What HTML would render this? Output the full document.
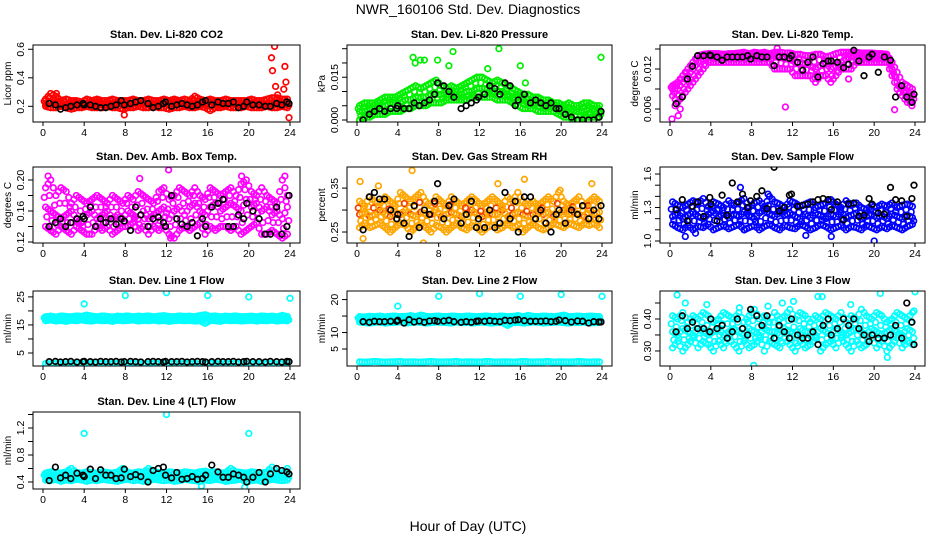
<!DOCTYPE html>
<html><head><meta charset="utf-8"><title>NWR_160106 Std. Dev. Diagnostics</title>
<style>
html,body{margin:0;padding:0;background:#fff;}
svg{display:block;font-family:"Liberation Sans",sans-serif;}
</style></head>
<body>
<svg id="chart" width="936" height="540" viewBox="0 0 936 540" xmlns="http://www.w3.org/2000/svg">
<text x="468" y="14" font-size="14" text-anchor="middle">NWR_160106  Std. Dev. Diagnostics</text>
<text x="468" y="531" font-size="14" text-anchor="middle">Hour of Day (UTC)</text>
</svg>
<script>
// ---------- common data ----------
const hours = [0.25,0.75,1.25,1.75,2.25,2.75,3.25,3.75,4.25,4.75,5.25,5.75,6.25,6.75,7.25,7.75,8.25,8.75,9.25,9.75,10.25,10.75,11.25,11.75,12.25,12.75,13.25,13.75,14.25,14.75,15.25,15.75,16.25,16.75,17.25,17.75,18.25,18.75,19.25,19.75,20.25,20.75,21.25,21.75,22.25,22.75,23.25,23.75];
const blackHours = [0.6,1.2,1.7,2.2,2.7,3.3,3.9,4.0,4.6,5.1,5.6,6.1,6.6,7.1,7.6,7.9,8.5,9.0,9.5,10.2,10.7,11.2,11.7,11.9,12.5,13.0,13.5,14.0,14.5,15.0,15.5,15.8,16.4,17.0,17.5,18.0,18.5,19.0,19.5,19.8,20.4,21.0,21.6,22.1,22.7,23.2,23.7,23.9];
const xTicks = [0,4,8,12,16,20,24];

// ---------- CO2 ----------
const co2Lo = [0.20,0.19,0.19,0.20,0.19,0.18,0.19,0.19,0.20,0.19,0.19,0.19,0.20,0.19,0.19,0.18,0.19,0.19,0.20,0.19,0.19,0.20,0.19,0.19,0.18,0.19,0.19,0.20,0.19,0.19,0.20,0.19,0.17,0.19,0.19,0.20,0.19,0.19,0.19,0.20,0.19,0.19,0.19,0.20,0.19,0.19,0.20,0.19];
const co2Mid = [0.22,0.23,0.22,0.22,0.21,0.22,0.22,0.21,0.22,0.22,0.23,0.22,0.21,0.22,0.22,0.22,0.21,0.22,0.23,0.22,0.22,0.21,0.22,0.22,0.22,0.23,0.22,0.22,0.21,0.22,0.22,0.22,0.23,0.22,0.21,0.22,0.22,0.22,0.21,0.22,0.22,0.22,0.21,0.22,0.22,0.23,0.22,0.22];
const co2Hi = [0.25,0.29,0.27,0.24,0.25,0.24,0.24,0.23,0.25,0.24,0.25,0.24,0.24,0.25,0.24,0.24,0.24,0.25,0.24,0.24,0.25,0.24,0.24,0.25,0.24,0.25,0.24,0.25,0.24,0.27,0.25,0.24,0.25,0.24,0.24,0.25,0.24,0.24,0.24,0.24,0.25,0.24,0.24,0.25,0.26,0.26,0.25,0.25];
const co2OutX = [1.3,7.9,22.2,22.3,22.5,22.6,22.8,23.4,23.5,23.6,23.9];
const co2OutY = [0.29,0.14,0.54,0.45,0.62,0.34,0.28,0.32,0.48,0.37,0.12];
const co2Black = [0.22,0.21,0.18,0.19,0.20,0.21,0.22,0.21,0.21,0.20,0.19,0.19,0.20,0.21,0.24,0.21,0.22,0.23,0.24,0.22,0.19,0.20,0.22,0.23,0.20,0.21,0.22,0.21,0.20,0.21,0.23,0.24,0.21,0.23,0.22,0.22,0.23,0.19,0.20,0.23,0.21,0.21,0.20,0.20,0.22,0.21,0.23,0.22];

// ---------- Pressure ----------
const prLo = [0,0.001,0.001,0.002,0.002,0.002,0.003,0.003,0.003,0.004,0.004,0.005,0.005,0.005,0.006,0.006,0.006,0.007,0.007,0.007,0.007,0.007,0.008,0.008,0.008,0.008,0.008,0.007,0.007,0.007,0.006,0.005,0.004,0.004,0.004,0.003,0.003,0.003,0.003,0.002,0.001,0.001,0.0,0.0,0.001,0.001,0.001,0.001];
const prMid = [0.003,0.003,0.004,0.004,0.005,0.005,0.006,0.006,0.006,0.007,0.007,0.008,0.008,0.008,0.009,0.009,0.009,0.009,0.009,0.009,0.009,0.010,0.010,0.011,0.011,0.011,0.010,0.010,0.010,0.009,0.008,0.008,0.007,0.006,0.006,0.006,0.005,0.005,0.005,0.004,0.004,0.003,0.003,0.003,0.003,0.004,0.003,0.003];
const prHi = [0.005,0.006,0.006,0.006,0.007,0.008,0.008,0.008,0.009,0.010,0.011,0.012,0.011,0.012,0.013,0.014,0.012,0.011,0.012,0.011,0.012,0.013,0.014,0.015,0.015,0.014,0.013,0.014,0.013,0.012,0.011,0.010,0.009,0.009,0.008,0.008,0.007,0.007,0.006,0.006,0.005,0.006,0.005,0.005,0.006,0.006,0.005,0.005];
const prOutX = [5.5,5.7,6.2,6.6,7.9,9.0,9.4,12.8,13.9,16.0,16.5,23.9];
const prOutY = [0.022,0.020,0.021,0.021,0.021,0.019,0.024,0.018,0.025,0.019,0.013,0.022];
const prBlack = [0.0,0.002,0.003,0.004,0.003,0.004,0.004,0.005,0.004,0.004,0.006,0.005,0.006,0.007,0.009,0.013,0.012,0.010,0.008,0.004,0.005,0.006,0.007,0.008,0.009,0.012,0.011,0.009,0.013,0.012,0.005,0.007,0.009,0.006,0.007,0.006,0.005,0.006,0.004,0.004,0.002,0.001,0.0,0.0,0.0,0.0,0.001,0.003];

// ---------- Li-820 Temp ----------
const ltLo = [0.008,0.007,0.008,0.009,0.010,0.011,0.012,0.013,0.013,0.013,0.013,0.013,0.013,0.013,0.013,0.013,0.013,0.013,0.013,0.013,0.012,0.012,0.012,0.012,0.011,0.011,0.011,0.011,0.010,0.011,0.011,0.010,0.011,0.012,0.012,0.012,0.013,0.013,0.013,0.013,0.013,0.013,0.013,0.011,0.009,0.008,0.007,0.007];
const ltMid = [0.009,0.009,0.010,0.011,0.012,0.013,0.0135,0.0138,0.014,0.014,0.014,0.014,0.014,0.014,0.014,0.014,0.014,0.014,0.014,0.014,0.014,0.0138,0.0135,0.0135,0.013,0.013,0.0128,0.0125,0.012,0.0125,0.013,0.012,0.0125,0.013,0.0135,0.014,0.014,0.014,0.014,0.014,0.014,0.014,0.0138,0.012,0.010,0.009,0.008,0.008];
const ltHi = [0.0095,0.010,0.011,0.012,0.013,0.014,0.0142,0.0143,0.0143,0.0143,0.0142,0.0143,0.0143,0.0144,0.0145,0.0143,0.0145,0.0144,0.0145,0.0143,0.0145,0.0145,0.0144,0.0144,0.0142,0.0142,0.014,0.014,0.0142,0.0142,0.0138,0.014,0.0143,0.0145,0.0145,0.0145,0.0145,0.0144,0.0144,0.0144,0.0143,0.0143,0.0142,0.013,0.0115,0.010,0.0095,0.009];
const ltOutX = [0.2,0.8,1.0,11.3,14.2,17.5,22.0,23.7,10.5,0.5];
const ltOutY = [0.0045,0.005,0.006,0.0063,0.0107,0.0105,0.0059,0.0065,0.0151,0.0065];
const ltBlack = [0.0068,0.0078,0.0105,0.0124,0.0140,0.0140,0.0141,0.0140,0.0138,0.0133,0.0138,0.0138,0.0138,0.0138,0.0140,0.0135,0.0140,0.0138,0.0138,0.0125,0.0138,0.0138,0.0136,0.0140,0.0130,0.0118,0.0130,0.0138,0.0108,0.0128,0.0132,0.0132,0.0130,0.0122,0.0127,0.0148,0.0132,0.0110,0.0138,0.0142,0.0115,0.0138,0.0133,0.0078,0.0095,0.0078,0.0070,0.0082];

// ---------- Amb Box Temp ----------
const abLo = [0.14,0.135,0.13,0.14,0.135,0.13,0.14,0.135,0.13,0.13,0.14,0.135,0.14,0.13,0.135,0.14,0.14,0.145,0.135,0.14,0.13,0.14,0.135,0.14,0.13,0.125,0.135,0.14,0.135,0.14,0.145,0.13,0.14,0.135,0.14,0.14,0.135,0.14,0.13,0.135,0.14,0.145,0.13,0.13,0.135,0.13,0.125,0.13];
const abMid = [0.165,0.16,0.155,0.15,0.155,0.16,0.15,0.145,0.155,0.16,0.15,0.155,0.16,0.15,0.155,0.15,0.16,0.155,0.15,0.16,0.15,0.155,0.16,0.165,0.15,0.16,0.165,0.155,0.165,0.17,0.16,0.155,0.165,0.17,0.16,0.165,0.17,0.165,0.16,0.175,0.165,0.17,0.16,0.165,0.155,0.16,0.15,0.165];
const abHi = [0.19,0.2,0.18,0.19,0.185,0.17,0.18,0.175,0.17,0.175,0.18,0.175,0.17,0.18,0.175,0.17,0.18,0.175,0.185,0.18,0.175,0.17,0.185,0.19,0.175,0.18,0.19,0.185,0.18,0.19,0.18,0.175,0.19,0.185,0.18,0.185,0.19,0.18,0.195,0.2,0.185,0.18,0.19,0.18,0.175,0.17,0.2,0.18];
const abOutX = [0.5,12.2,12.4,23.5,9.4,19.3];
const abOutY = [0.205,0.213,0.125,0.205,0.202,0.205];
const abBlack = [0.14,0.145,0.15,0.14,0.145,0.15,0.153,0.15,0.165,0.14,0.15,0.145,0.15,0.143,0.15,0.147,0.135,0.165,0.155,0.14,0.15,0.152,0.145,0.14,0.18,0.15,0.143,0.14,0.145,0.128,0.15,0.14,0.165,0.17,0.175,0.14,0.14,0.155,0.15,0.17,0.16,0.15,0.13,0.13,0.165,0.13,0.14,0.18];

// ---------- Gas Stream RH ----------
const rhLo = [0.26,0.27,0.26,0.265,0.27,0.26,0.25,0.26,0.27,0.265,0.25,0.26,0.27,0.26,0.25,0.265,0.26,0.25,0.26,0.27,0.26,0.255,0.265,0.26,0.25,0.26,0.265,0.255,0.26,0.27,0.26,0.265,0.25,0.26,0.27,0.26,0.255,0.26,0.27,0.265,0.26,0.27,0.265,0.26,0.27,0.265,0.27,0.26];
const rhMid = [0.29,0.295,0.285,0.29,0.3,0.29,0.285,0.295,0.29,0.3,0.29,0.285,0.295,0.29,0.29,0.3,0.285,0.29,0.295,0.29,0.285,0.29,0.3,0.29,0.285,0.295,0.29,0.29,0.3,0.285,0.29,0.295,0.29,0.285,0.29,0.3,0.29,0.295,0.285,0.29,0.3,0.29,0.295,0.29,0.285,0.3,0.29,0.295];
const rhHi = [0.32,0.31,0.33,0.32,0.315,0.33,0.32,0.31,0.34,0.33,0.32,0.33,0.34,0.32,0.31,0.33,0.32,0.31,0.33,0.32,0.31,0.32,0.33,0.32,0.31,0.32,0.33,0.32,0.31,0.33,0.32,0.34,0.32,0.31,0.32,0.31,0.32,0.33,0.32,0.34,0.32,0.31,0.32,0.33,0.31,0.32,0.33,0.32];
const rhOutX = [0.3,0.6,5.4,6.5,16.4,23.0,2.1,13.8,19.9];
const rhOutY = [0.365,0.235,0.39,0.225,0.37,0.36,0.355,0.36,0.345];
const rhBlack = [0.255,0.33,0.34,0.325,0.325,0.3,0.28,0.29,0.27,0.24,0.31,0.26,0.30,0.29,0.32,0.36,0.28,0.31,0.325,0.27,0.29,0.32,0.26,0.28,0.26,0.3,0.26,0.27,0.34,0.28,0.32,0.25,0.33,0.33,0.28,0.3,0.27,0.25,0.29,0.30,0.27,0.3,0.29,0.31,0.28,0.3,0.28,0.31];

// ---------- Sample Flow ----------
const sfLo = [1.15,1.12,1.1,1.14,1.1,1.13,1.12,1.15,1.1,1.12,1.14,1.11,1.13,1.15,1.1,1.12,1.14,1.1,1.13,1.15,1.12,1.1,1.14,1.12,1.11,1.15,1.13,1.1,1.12,1.15,1.13,1.1,1.12,1.14,1.1,1.13,1.12,1.1,1.14,1.12,1.1,1.13,1.11,1.14,1.12,1.1,1.13,1.15];
const sfMid = [1.22,1.25,1.2,1.23,1.26,1.22,1.2,1.24,1.27,1.22,1.25,1.21,1.24,1.22,1.26,1.23,1.2,1.25,1.28,1.24,1.22,1.26,1.23,1.25,1.22,1.2,1.24,1.21,1.25,1.23,1.2,1.24,1.22,1.26,1.21,1.23,1.25,1.2,1.22,1.24,1.21,1.23,1.2,1.24,1.22,1.2,1.23,1.21];
const sfHi = [1.35,1.32,1.3,1.33,1.36,1.34,1.38,1.31,1.35,1.33,1.3,1.36,1.32,1.35,1.38,1.3,1.34,1.36,1.31,1.4,1.35,1.33,1.3,1.36,1.34,1.31,1.33,1.35,1.3,1.32,1.34,1.37,1.33,1.3,1.36,1.32,1.34,1.3,1.28,1.32,1.3,1.33,1.31,1.34,1.3,1.32,1.33,1.31];
const sfOutX = [1.5,6.9,7.3,9.6,15.8,20.0,2.5,13.3];
const sfOutY = [1.04,1.48,1.1,1.42,1.04,1.0,1.07,1.05];
const sfBlack = [1.28,1.37,1.18,1.31,1.35,1.22,1.39,1.33,1.18,1.41,1.23,1.52,1.35,1.42,1.3,1.36,1.4,1.45,1.29,1.66,1.27,1.3,1.41,1.42,1.31,1.32,1.33,1.35,1.37,1.38,1.37,1.28,1.35,1.19,1.33,1.34,1.22,1.23,1.38,1.33,1.25,1.24,1.48,1.37,1.36,1.22,1.38,1.5];

// ---------- Line 1 Flow ----------
const l1Lo = [16.5,16.8,16.4,16.6,16.3,16.7,16.5,16.8,16.5,16.4,16.7,16.5,16.6,16.3,16.7,16.5,16.6,16.8,16.4,16.6,16.5,16.7,16.4,16.6,16.3,16.5,16.7,16.5,16.6,16.4,16.5,15.6,16.6,16.5,16.3,16.7,16.5,16.6,16.4,16.5,16.7,16.4,16.6,16.5,16.7,16.4,16.6,16.5];
const l1Mid = [17.2,17.0,17.3,17.1,17.2,17.0,17.3,17.2,17.1,17.4,17.2,17.0,17.1,17.3,17.2,17.0,17.1,17.3,17.2,17.1,17.0,17.2,17.3,17.1,17.2,17.4,17.1,17.2,17.0,17.3,17.2,17.1,17.2,17.0,17.3,17.1,17.2,17.3,17.0,17.2,17.1,17.3,17.2,17.0,17.1,17.3,17.2,17.1];
const l1Hi = [17.9,18.1,17.8,18.2,18.0,17.9,18.2,18.0,18.5,18.1,17.9,18.2,18.0,17.8,18.1,18.0,18.2,17.9,18.1,18.0,18.2,17.9,18.1,18.3,18.0,17.9,18.2,18.0,18.1,17.9,18.3,18.6,18.0,18.2,17.9,18.1,18.0,18.2,17.9,18.0,18.1,17.9,18.2,18.0,18.1,17.9,18.4,18.0];
const l1Low2 = [1.2,1.1,1.3,1.2,1.1,1.2,1.3,1.2,1.1,1.2,1.2,1.3,1.1,1.2,1.2,1.1,1.3,1.2,1.2,1.1,1.2,1.3,1.2,1.1,1.2,1.2,1.1,1.3,1.2,1.2,1.1,1.2,1.3,1.2,1.1,1.2,1.2,1.3,1.1,1.2,1.2,1.1,1.3,1.2,1.2,1.1,1.2,1.2];
const l1OutX = [4.0,8.0,12.0,16.0,20.0,24.0];
const l1OutY = [22.5,25.5,26.5,25.5,25.0,24.5];
const l1Black = [1.9,2.0,1.8,1.9,2.0,1.8,1.9,2.0,1.9,1.8,2.0,1.9,1.9,2.0,1.8,1.9,2.0,1.9,1.8,1.9,2.0,1.9,1.8,2.0,1.9,1.9,2.0,1.8,1.9,2.0,1.9,1.8,1.9,2.0,1.9,1.9,2.0,1.8,1.9,2.0,1.9,1.9,1.8,2.0,1.9,1.8,2.0,1.9];

// ---------- Line 2 Flow ----------
const l2Lo = [13.2,13.0,12.9,13.1,13.2,12.9,13.0,13.1,13.3,12.9,13.0,13.2,13.1,12.9,13.0,13.2,13.1,13.0,12.9,13.2,13.0,13.1,12.9,13.0,13.2,13.0,12.9,13.1,13.0,12.2,13.0,13.1,12.9,13.0,13.2,13.1,12.9,13.0,13.1,13.2,13.0,12.9,13.1,13.0,13.2,12.9,13.0,13.1];
const l2Mid = [14.0,13.9,14.1,14.0,13.8,14.1,14.0,13.9,14.1,14.0,13.9,14.1,14.0,14.2,13.9,14.0,14.1,13.9,14.0,14.1,14.0,13.9,14.1,14.0,13.9,14.1,14.0,14.0,13.9,14.1,14.0,13.9,14.1,14.0,13.9,14.0,14.1,14.0,13.9,14.1,14.0,13.9,14.0,14.1,14.0,13.9,14.1,14.0];
const l2Hi = [14.8,14.7,14.9,14.8,15.0,14.7,14.9,15.0,14.8,14.9,15.1,14.8,15.3,14.9,14.8,15.0,14.9,14.8,15.0,14.9,14.8,15.0,14.9,14.8,14.9,15.0,14.8,14.9,15.0,14.8,14.9,15.1,14.8,15.2,14.9,14.8,15.0,14.9,14.8,15.0,15.3,14.8,14.9,15.0,14.8,15.0,14.9,14.8];
const l2Low2 = [1.1,1.0,1.1,1.2,1.1,1.0,1.1,1.1,1.2,1.0,1.1,1.1,1.0,1.1,1.2,1.1,1.0,1.1,1.1,1.2,1.0,1.1,1.1,1.0,1.1,1.2,1.1,1.0,1.1,1.1,1.0,1.1,1.2,1.1,1.0,1.1,1.1,1.2,1.0,1.1,1.1,1.0,1.1,1.2,1.1,1.0,1.1,1.1];
const l2OutX = [4.0,8.0,12.0,16.0,20.0,24.0];
const l2OutY = [18.0,21.0,21.8,21.0,21.5,21.0];
const l2Black = [13.3,13.1,13.4,13.3,13.3,13.4,13.4,13.7,12.9,13.9,13.2,13.5,13.1,13.5,13.6,13.4,13.5,13.7,13.3,13.1,13.3,13.1,13.4,13.5,13.4,13.6,13.4,13.3,13.7,13.6,13.8,13.9,13.6,13.4,13.4,13.4,13.5,13.3,13.4,13.8,13.6,13.2,13.5,13.4,12.9,13.3,13.2,13.2];

// ---------- Line 3 Flow ----------
const l3Lo = [0.31,0.33,0.30,0.32,0.34,0.31,0.33,0.32,0.30,0.33,0.31,0.34,0.32,0.30,0.33,0.31,0.32,0.34,0.30,0.33,0.32,0.31,0.34,0.32,0.30,0.33,0.31,0.32,0.34,0.30,0.32,0.33,0.31,0.34,0.32,0.30,0.33,0.31,0.32,0.34,0.31,0.33,0.30,0.32,0.34,0.31,0.33,0.32];
const l3Mid = [0.36,0.35,0.37,0.36,0.35,0.37,0.36,0.35,0.36,0.37,0.35,0.36,0.37,0.36,0.35,0.37,0.36,0.35,0.37,0.36,0.36,0.35,0.37,0.36,0.35,0.37,0.36,0.36,0.35,0.37,0.36,0.35,0.37,0.36,0.35,0.36,0.37,0.36,0.35,0.37,0.36,0.35,0.36,0.37,0.36,0.35,0.37,0.36];
const l3Hi = [0.41,0.40,0.42,0.39,0.41,0.40,0.42,0.41,0.39,0.40,0.42,0.41,0.40,0.42,0.39,0.41,0.43,0.40,0.41,0.39,0.42,0.40,0.41,0.43,0.40,0.42,0.41,0.39,0.41,0.40,0.42,0.41,0.40,0.42,0.39,0.41,0.40,0.43,0.41,0.40,0.42,0.41,0.39,0.40,0.42,0.41,0.40,0.42];
const l3OutX = [0.7,3.6,8.2,12.1,14.5,14.9,20.6,21.3,24.0,23.9,1.5,6.8,9.6,11.0,17.7];
const l3OutY = [0.475,0.445,0.255,0.455,0.47,0.47,0.48,0.28,0.485,0.425,0.45,0.435,0.44,0.45,0.445];
const l3Black = [0.36,0.41,0.37,0.39,0.37,0.37,0.36,0.40,0.37,0.38,0.34,0.36,0.40,0.37,0.35,0.43,0.41,0.38,0.41,0.34,0.38,0.36,0.34,0.40,0.35,0.34,0.34,0.36,0.32,0.38,0.40,0.35,0.37,0.40,0.38,0.40,0.37,0.35,0.33,0.35,0.34,0.34,0.35,0.38,0.34,0.45,0.39,0.32];

// ---------- Line 4 Flow ----------
const l4Lo = [0.43,0.42,0.44,0.41,0.43,0.42,0.44,0.43,0.41,0.43,0.42,0.44,0.43,0.42,0.41,0.43,0.44,0.42,0.43,0.41,0.42,0.44,0.43,0.42,0.43,0.41,0.42,0.44,0.43,0.42,0.41,0.43,0.42,0.44,0.43,0.41,0.42,0.43,0.44,0.40,0.42,0.43,0.41,0.42,0.44,0.43,0.42,0.43];
const l4Mid = [0.48,0.49,0.47,0.48,0.50,0.48,0.47,0.49,0.48,0.50,0.47,0.48,0.49,0.48,0.47,0.49,0.48,0.50,0.47,0.48,0.49,0.47,0.48,0.50,0.48,0.47,0.49,0.48,0.47,0.49,0.48,0.50,0.47,0.48,0.49,0.48,0.47,0.49,0.48,0.50,0.47,0.48,0.49,0.48,0.47,0.49,0.48,0.50];
const l4Hi = [0.53,0.55,0.54,0.53,0.55,0.60,0.54,0.53,0.55,0.54,0.53,0.55,0.54,0.53,0.55,0.60,0.54,0.53,0.55,0.54,0.60,0.55,0.54,0.53,0.55,0.54,0.53,0.55,0.54,0.53,0.55,0.56,0.54,0.55,0.53,0.54,0.60,0.55,0.54,0.53,0.55,0.54,0.53,0.55,0.62,0.54,0.53,0.60];
const l4OutX = [4.0,12.0,20.0,19.6,15.4];
const l4OutY = [1.12,1.40,1.12,0.32,0.34];
const l4Black = [0.42,0.62,0.46,0.50,0.45,0.53,0.50,0.48,0.59,0.45,0.58,0.50,0.50,0.45,0.46,0.59,0.48,0.51,0.48,0.40,0.57,0.60,0.62,0.50,0.46,0.54,0.44,0.45,0.48,0.44,0.45,0.50,0.65,0.55,0.47,0.47,0.52,0.50,0.47,0.40,0.47,0.54,0.40,0.52,0.60,0.57,0.55,0.52];

// ---------- panel layout (geometry, not data) ----------
const panels = [
 {id:'co2',title:'Stan. Dev. Li-820 CO2',ylab:'Licor ppm',box:[33,45,300,122],ymin:0.09,ymax:0.63,color:'#ff0000',ticks:[0.2,0.4,0.6],labels:['0.2','0.4','0.6'],
  lo:co2Lo,mid:co2Mid,hi:co2Hi,oX:co2OutX,oY:co2OutY,black:co2Black},
 {id:'pressure',title:'Stan. Dev. Li-820 Pressure',ylab:'kPa',box:[347,45,612,122],ymin:-0.0007,ymax:0.0263,color:'#00ee00',ticks:[0,0.005,0.010,0.015,0.020,0.025],labels:['0.000','','','0.015','',''],
  lo:prLo,mid:prMid,hi:prHi,oX:prOutX,oY:prOutY,black:prBlack},
 {id:'li-temp',title:'Stan. Dev. Li-820 Temp.',ylab:'degrees C',box:[660,45,925,122],ymin:0.00405,ymax:0.0156,color:'#ff00ff',ticks:[0.006,0.009,0.012,0.015],labels:['0.006','','0.012',''],
  lo:ltLo,mid:ltMid,hi:ltHi,oX:ltOutX,oY:ltOutY,black:ltBlack},
 {id:'amb-temp',title:'Stan. Dev. Amb. Box Temp.',ylab:'degrees C',box:[33,167,300,243],ymin:0.1187,ymax:0.2168,color:'#ff00ff',ticks:[0.12,0.14,0.16,0.18,0.20],labels:['0.12','','0.16','','0.20'],
  lo:abLo,mid:abMid,hi:abHi,oX:abOutX,oY:abOutY,black:abBlack},
 {id:'rh',title:'Stan. Dev. Gas Stream RH',ylab:'percent',box:[347,167,612,243],ymin:0.225,ymax:0.398,color:'#ffa500',color2:'#f04000',ticks:[0.25,0.30,0.35],labels:['0.25','','0.35'],
  lo:rhLo,mid:rhMid,hi:rhHi,oX:rhOutX,oY:rhOutY,black:rhBlack},
 {id:'sample-flow',title:'Stan. Dev. Sample Flow',ylab:'ml/min',box:[660,167,925,243],ymin:0.982,ymax:1.663,color:'#0000ff',ticks:[1.0,1.1,1.2,1.3,1.4,1.5,1.6],labels:['1.0','','','1.3','','','1.6'],
  lo:sfLo,mid:sfMid,hi:sfHi,oX:sfOutX,oY:sfOutY,black:sfBlack},
 {id:'line1',title:'Stan. Dev. Line 1 Flow',ylab:'ml/min',box:[33,291,300,366],ymin:0.36,ymax:27.1,color:'#00ffff',ticks:[5,10,15,20,25],labels:['5','','15','','25'],
  lo:l1Lo,mid:l1Mid,hi:l1Hi,low2:l1Low2,oX:l1OutX,oY:l1OutY,black:l1Black},
 {id:'line2',title:'Stan. Dev. Line 2 Flow',ylab:'ml/min',box:[347,291,612,366],ymin:-0.15,ymax:22.6,color:'#00ffff',ticks:[5,10,15,20],labels:['5','10','','20'],
  lo:l2Lo,mid:l2Mid,hi:l2Hi,low2:l2Low2,oX:l2OutX,oY:l2OutY,black:l2Black},
 {id:'line3',title:'Stan. Dev. Line 3 Flow',ylab:'ml/min',box:[660,291,925,366],ymin:0.253,ymax:0.4875,color:'#00ffff',ticks:[0.30,0.35,0.40,0.45],labels:['0.30','','0.40',''],
  lo:l3Lo,mid:l3Mid,hi:l3Hi,oX:l3OutX,oY:l3OutY,black:l3Black},
 {id:'line4',title:'Stan. Dev. Line 4 (LT) Flow',ylab:'ml/min',box:[33,412,300,489],ymin:0.296,ymax:1.437,color:'#00ffff',ticks:[0.4,0.6,0.8,1.0,1.2,1.4],labels:['0.4','','0.8','','1.2',''],
  lo:l4Lo,mid:l4Mid,hi:l4Hi,oX:l4OutX,oY:l4OutY,black:l4Black}
];

const NS='http://www.w3.org/2000/svg';
const svg=document.getElementById('chart');
function mk(tag,attrs,parent){const e=document.createElementNS(NS,tag);for(const k in attrs)e.setAttribute(k,attrs[k]);(parent||svg).appendChild(e);return e;}

panels.forEach(p=>{
  const [L,T,R,B]=p.box;
  const g=mk('g',{});
  
  
  const xs=h=>(L+10)+(h/24)*(R-L-20);
  const ys=v=>B-(v-p.ymin)/(p.ymax-p.ymin)*(B-T);
  const clip=mk('clipPath',{id:'clip-'+p.id},g);
  mk('rect',{x:L,y:T,width:R-L,height:B-T},clip);
  const pts=mk('g',{'clip-path':'url(#clip-'+p.id+')'},g);
  
  
  function dot(x,y,col,nm){
    const c=mk('circle',{cx:xs(x).toFixed(1),cy:ys(y).toFixed(1),r:2.8,fill:'none',stroke:col,'stroke-width':1.7},pts);
    
    
  }
  const sets=[p.lo,p.mid,p.hi];
  if(p.low2) sets.push(p.low2);
  sets.forEach((arr,si)=>{
    arr.forEach((v,i)=>{
      const col=(p.color2 && si===1 && i%2===0)?p.color2:p.color;
      dot(hours[i],v,col,p.id+'-point');
      if(i<arr.length-1){dot((hours[i]+hours[i+1])/2,(v+arr[i+1])/2,p.color,p.id+'-point');}
    });
  });
  for(let i=0;i<hours.length;i++){
    dot(hours[i]+0.12,(p.lo[i]+p.mid[i])/2,p.color,p.id+'-point');
    dot(hours[i]-0.12,(p.mid[i]+p.hi[i])/2,(p.color2 && i%3===0)?p.color2:p.color,p.id+'-point');
  }
  p.oX.forEach((x,i)=>dot(x,p.oY[i],p.color,p.id+'-outlier'));
  p.black.forEach((v,i)=>dot(blackHours[i],v,'#000000',p.id+'-hourly-point'));
  const bx=mk('rect',{x:L,y:T,width:R-L,height:B-T,fill:'none',stroke:'#000','stroke-width':1},g);
  
  
  const t=mk('text',{x:(L+R)/2,y:T-7,'font-size':11,'font-weight':'bold','text-anchor':'middle'},g);
  t.textContent=p.title;
  
  
  const xa=mk('g',{},g);
  
  
  xTicks.forEach(h=>{
    mk('line',{x1:xs(h),x2:xs(h),y1:B,y2:B+4,stroke:'#000'},xa);
    const tl=mk('text',{x:xs(h),y:B+14,'font-size':10.5,'text-anchor':'middle'},xa);
    tl.textContent=String(h);
    
    
  });
  const ya=mk('g',{},g);
  
  
  p.ticks.forEach((v,i)=>{
    const y=ys(v);
    mk('line',{x1:L-5,x2:L,y1:y,y2:y,stroke:'#000'},ya);
    if(p.labels[i]){
      const tl=mk('text',{x:0,y:0,'font-size':10.5,'text-anchor':'middle',transform:'translate('+(L-9)+','+y.toFixed(1)+') rotate(-90)'},ya);
      tl.textContent=p.labels[i];
      
      
    }
  });
  const yl=mk('text',{x:0,y:0,'font-size':10,'text-anchor':'middle',transform:'translate('+(L-22)+','+((T+B)/2)+') rotate(-90)'},g);
  yl.textContent=p.ylab;
  
  
});
</script>
</body></html>
